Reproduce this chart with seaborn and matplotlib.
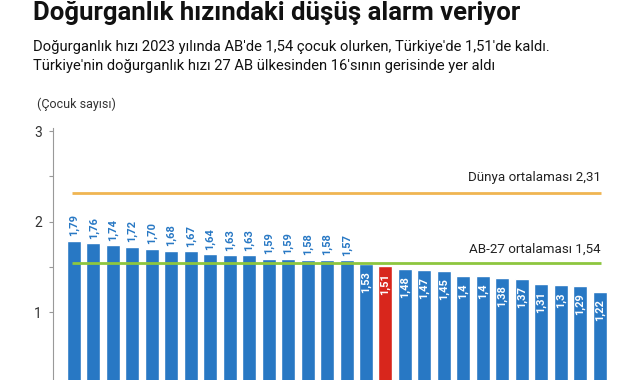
import pandas as pd
import seaborn as sns
import matplotlib.pyplot as plt

# Doğurganlık hızı 2023 - AB ülkeleri ve Türkiye (sıralı)
values = [1.79, 1.76, 1.74, 1.72, 1.70, 1.68, 1.67, 1.64, 1.63, 1.63, 1.59, 1.59, 1.58, 1.58,
          1.57, 1.53, 1.51, 1.48, 1.47, 1.45, 1.40, 1.40, 1.38, 1.37, 1.31, 1.30, 1.29, 1.22]
value_labels = ['1,79', '1,76', '1,74', '1,72', '1,70', '1,68', '1,67', '1,64', '1,63', '1,63',
                '1,59', '1,59', '1,58', '1,58', '1,57', '1,53', '1,51', '1,48', '1,47', '1,45',
                '1,4', '1,4', '1,38', '1,37', '1,31', '1,3', '1,29', '1,22']
groups = ['AB'] * 16 + ['Türkiye'] + ['AB'] * 11
world_avg = 2.31
eu_avg = 1.54

blue = '#2878c4'
red = '#d8261c'
orange = '#f0b552'
green = '#8dc63f'
dark = '#222222'

df = pd.DataFrame({'sira': [str(i) for i in range(len(values))],
                   'deger': values,
                   'grup': groups})

sns.set_style("white")
plt.rcParams['font.family'] = ['Roboto', 'DejaVu Sans']

fig = plt.figure(figsize=(6.41, 3.8), dpi=100)
ax = fig.add_axes([53 / 641, 0, 566 / 641, 0.6624])

sns.barplot(data=df, x='sira', y='deger', hue='grup', palette={'AB': blue, 'Türkiye': red},
            width=0.72, dodge=False, legend=False, saturation=1, ax=ax)

# value labels: above the bar while it is above the EU line, inside otherwise
for i, (v, lab) in enumerate(zip(values, value_labels)):
    if v > eu_avg:
        ax.text(i, v + 0.05, lab, rotation=90, ha='center', va='bottom',
                color=blue, fontsize=8, fontweight='bold')
    else:
        ax.text(i, v - 0.08, lab, rotation=90, ha='center', va='top',
                color='white', fontsize=8, fontweight='bold')

# reference lines
ax.hlines(world_avg, -0.1, 27.05, color=orange, lw=2, zorder=3)
ax.hlines(eu_avg, -0.1, 27.05, color=green, lw=2, zorder=3)
ax.text(27.05, world_avg + 0.1, 'Dünya ortalaması 2,31', ha='right', va='bottom',
        fontsize=9.6, color=dark)
ax.text(27.05, eu_avg + 0.08, 'AB-27 ortalaması 1,54', ha='right', va='bottom',
        fontsize=9.6, color=dark)

ax.set_xlim(-1.08, 28)
ax.set_ylim(0.25, 3.03)
ax.set_xticks([])
ax.set_yticks([1, 2, 3])
ax.set_yticks([1.5, 2.5], minor=True)
ax.set_yticklabels(['1', '2', '3'])
ax.tick_params(axis='y', which='both', direction='out', length=3, width=0.8,
               color='#999999', labelsize=10, labelcolor='#333333', pad=5, left=True)
ax.set_xlabel('')
ax.set_ylabel('')
for s in ['top', 'right', 'bottom']:
    ax.spines[s].set_visible(False)
ax.spines['left'].set_color('#999999')
ax.spines['left'].set_linewidth(0.8)

fig.text(33 / 641, 1 - 13 / 380, 'Doğurganlık hızındaki düşüş alarm veriyor',
         fontsize=18.5, fontweight='bold', color='#111111', va='center')
fig.text(33 / 641, 1 - 47 / 380,
         "Doğurganlık hızı 2023 yılında AB'de 1,54 çocuk olurken, Türkiye'de 1,51'de kaldı.",
         fontsize=10.6, color='#111111', va='center')
fig.text(33 / 641, 1 - 66 / 380,
         "Türkiye'nin doğurganlık hızı 27 AB ülkesinden 16'sının gerisinde yer aldı",
         fontsize=10.6, color='#111111', va='center')
fig.text(37 / 641, 1 - 104 / 380, '(Çocuk sayısı)', fontsize=9, color='#333333', va='center')

fig.savefig('out.png', dpi=100)
